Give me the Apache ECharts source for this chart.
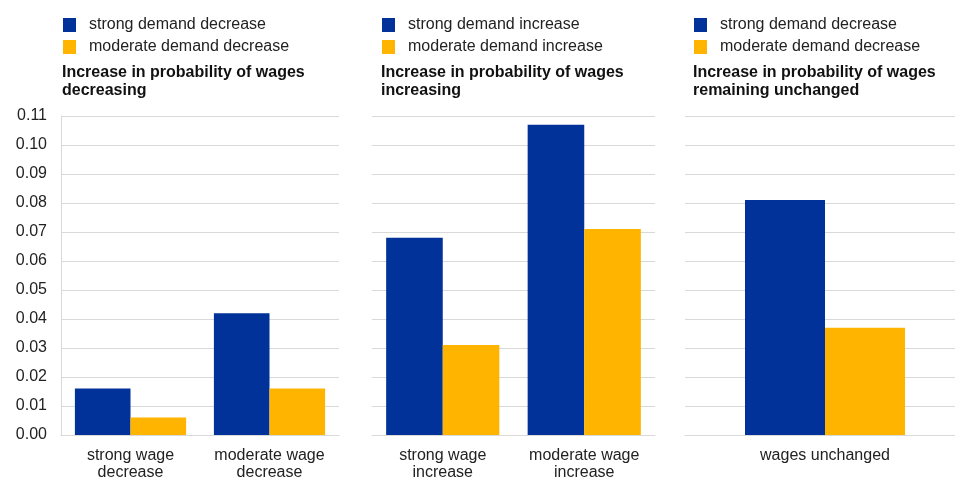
<!DOCTYPE html>
<html>
<head>
<meta charset="utf-8">
<script src="https://cdn.jsdelivr.net/npm/echarts@6/dist/echarts.min.js"></script>
<style>html,body{margin:0;padding:0;background:#fff}#c{width:955px;height:479px}</style>
</head>
<body>
<div id="c"></div>
<script>
const catsDecrease = ['strong wage\ndecrease', 'moderate wage\ndecrease'];
const catsIncrease = ['strong wage\nincrease', 'moderate wage\nincrease'];
const catsUnchanged = ['wages unchanged'];
const strongDemandDecrease_dec = [0.016, 0.042];
const moderateDemandDecrease_dec = [0.006, 0.016];
const strongDemandIncrease_inc = [0.068, 0.107];
const moderateDemandIncrease_inc = [0.031, 0.071];
const strongDemandDecrease_unch = [0.081];
const moderateDemandDecrease_unch = [0.037];
const titles = ['Increase in probability of wages\ndecreasing', 'Increase in probability of wages\nincreasing', 'Increase in probability of wages\nremaining unchanged'];

const BLUE = '#003299', YELLOW = '#FFB400', GRID = '#d9d9d9', TXT = '#222';
const font = 'Liberation Sans, Arial, sans-serif';

const grids = [
  {left: 61, top: 116, width: 278, height: 319, outerBoundsMode: 'none'},
  {left: 372, top: 116, width: 283, height: 319, outerBoundsMode: 'none'},
  {left: 685, top: 116, width: 280, height: 319, outerBoundsMode: 'none'}
];
const cats = [catsDecrease, catsIncrease, catsUnchanged];
const xAxis = cats.map((c, i) => ({
  type: 'category', gridIndex: i, data: c,
  axisTick: {show: false},
  axisLine: {show: true, lineStyle: {color: GRID, width: 1}},
  axisLabel: {color: TXT, fontSize: 16, fontFamily: font, lineHeight: 17, margin: 12, interval: 0}
}));
const yAxis = [0, 1, 2].map(i => ({
  type: 'value', gridIndex: i, min: 0, max: 0.11, interval: 0.01,
  axisLine: {show: i === 0, lineStyle: {color: GRID}},
  axisTick: {show: false},
  splitLine: {show: true, lineStyle: {color: GRID, width: 1}},
  axisLabel: {show: i === 0, color: TXT, fontSize: 16, fontFamily: font, margin: 14,
    formatter: v => v.toFixed(2)}
}));

function bar(name, data, idx, color, extra) {
  return Object.assign({
    type: 'bar', name: name, data: data, xAxisIndex: idx, yAxisIndex: idx,
    itemStyle: {color: color}, barGap: '0%', barCategoryGap: '20%',
    emphasis: {disabled: true}
  }, extra || {});
}

const series = [
  bar('strong demand decrease', strongDemandDecrease_dec, 0, BLUE),
  bar('moderate demand decrease', moderateDemandDecrease_dec, 0, YELLOW),
  bar('strong demand increase', strongDemandIncrease_inc, 1, BLUE),
  bar('moderate demand increase', moderateDemandIncrease_inc, 1, YELLOW),
  bar('strong demand decrease', strongDemandDecrease_unch, 2, BLUE, {barWidth: 80}),
  bar('moderate demand decrease', moderateDemandDecrease_unch, 2, YELLOW, {barWidth: 80})
];

const legendLeft = [63, 382, 694];
const titleLeft = [62, 381, 693];
const legendData = [
  ['strong demand decrease', 'moderate demand decrease'],
  ['strong demand increase', 'moderate demand increase'],
  ['strong demand decrease', 'moderate demand decrease']
];
const legend = legendData.map((d, i) => ({
  data: d, orient: 'vertical', left: legendLeft[i], top: 17, padding: 0,
  icon: 'rect', itemWidth: 13, itemHeight: 14, itemGap: 6, selectedMode: false,
  textStyle: {color: TXT, fontSize: 16, fontFamily: font, lineHeight: 14, padding: [0, 0, 0, 8]}
}));

const title = titles.map((t, i) => ({
  text: t, left: titleLeft[i], top: 64, padding: 0,
  textStyle: {color: '#111', fontSize: 16, fontWeight: 'bold', fontFamily: font, lineHeight: 18}
}));

const chart = echarts.init(document.getElementById('c'), null, {renderer: 'canvas'});
chart.setOption({
  animation: false,
  backgroundColor: '#fff',
  title: title,
  legend: legend,
  grid: grids,
  xAxis: xAxis,
  yAxis: yAxis,
  series: series
});
</script>
</body>
</html>
